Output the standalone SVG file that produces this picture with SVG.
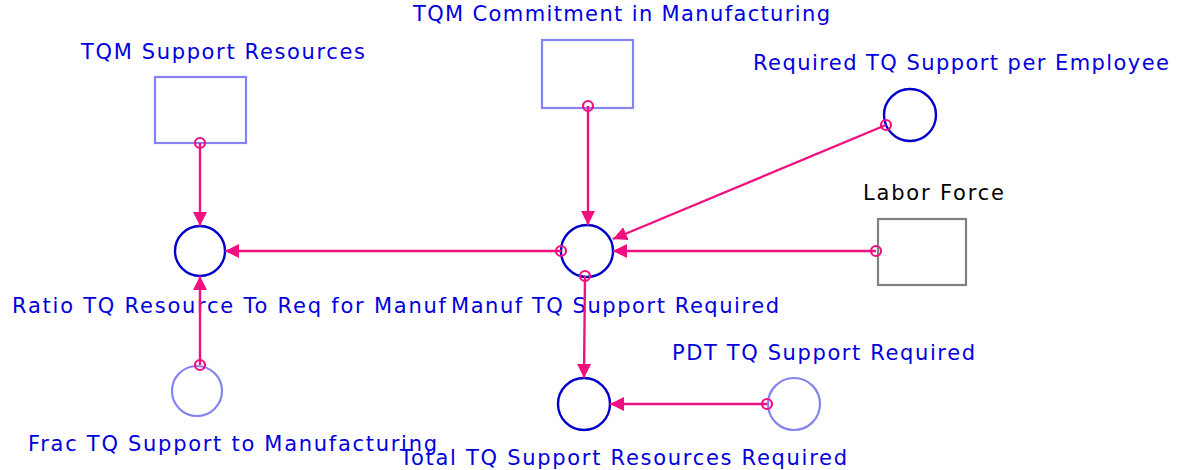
<svg xmlns="http://www.w3.org/2000/svg" width="1182" height="470" viewBox="0 0 1182 470">
<style>
.lbl{font-family:"DejaVu Sans","Verdana",sans-serif;font-size:21px;fill:#0000dd}
.blk{fill:#000}
.lvl{fill:#fff;stroke:#8484f0;stroke-width:2.2}
.lvlg{fill:#fff;stroke:#808080;stroke-width:2.2}
.aux{fill:#fff;stroke:#0000cc;stroke-width:2.4}
.auxl{fill:#fff;stroke:#8484f0;stroke-width:2.2}
.con line{stroke:#f0107f;stroke-width:2.4}
.con circle{fill:none;stroke:#f0107f;stroke-width:2.2}
</style>
<defs>
<marker id="ah" viewBox="0 0 14 14" refX="14" refY="7" markerWidth="14" markerHeight="14" markerUnits="userSpaceOnUse" orient="auto">
<path d="M0,0 L14,7 L0,14 Z" fill="#f0107f"/>
</marker>
</defs>
<g id="node-tqm-support-resources">
<rect class="lvl" x="155" y="77" width="91" height="66"/>
<text class="lbl" x="81" y="59" textLength="284" lengthAdjust="spacing">TQM Support Resources</text>
</g>
<g id="node-tqm-commitment">
<rect class="lvl" x="542" y="40" width="91" height="68"/>
<text class="lbl" x="413" y="21" textLength="417" lengthAdjust="spacing">TQM Commitment in Manufacturing</text>
</g>
<g id="node-labor-force">
<rect class="lvlg" x="878" y="219" width="88" height="66"/>
<text class="lbl blk" x="863" y="200" textLength="141" lengthAdjust="spacing">Labor Force</text>
</g>
<g id="node-required-tq">
<circle class="aux" cx="910" cy="115" r="26"/>
<text class="lbl" x="753" y="70" textLength="416" lengthAdjust="spacing">Required TQ Support per Employee</text>
</g>
<g id="node-ratio">
<circle class="aux" cx="200" cy="251" r="25"/>
<text class="lbl" x="12" y="313" textLength="434" lengthAdjust="spacing">Ratio TQ Resource To Req for Manuf</text>
</g>
<g id="node-manuf-tq">
<circle class="aux" cx="587" cy="251" r="26"/>
<text class="lbl" x="451" y="313" textLength="328" lengthAdjust="spacing">Manuf TQ Support Required</text>
</g>
<g id="node-frac">
<circle class="auxl" cx="197" cy="391" r="25"/>
<text class="lbl" x="28" y="451" textLength="409" lengthAdjust="spacing">Frac TQ Support to Manufacturing</text>
</g>
<g id="node-total">
<circle class="aux" cx="584" cy="404" r="26"/>
<text class="lbl" x="400" y="465" textLength="447" lengthAdjust="spacing">Total TQ Support Resources Required</text>
</g>
<g id="node-pdt">
<circle class="auxl" cx="794" cy="404" r="26"/>
<text class="lbl" x="672" y="360" textLength="303" lengthAdjust="spacing">PDT TQ Support Required</text>
</g>
<g id="connectors" class="con">
<line x1="200" y1="143" x2="200" y2="226" marker-end="url(#ah)"/><circle cx="200" cy="143" r="5"/>
<line x1="588" y1="106" x2="588" y2="225" marker-end="url(#ah)"/><circle cx="588" cy="106" r="5"/>
<line x1="886" y1="125" x2="613" y2="239" marker-end="url(#ah)"/><circle cx="886" cy="125" r="5"/>
<line x1="876" y1="251" x2="613" y2="251" marker-end="url(#ah)"/><circle cx="876" cy="251" r="5"/>
<line x1="561" y1="251" x2="225" y2="251" marker-end="url(#ah)"/><circle cx="561" cy="251" r="5"/>
<line x1="200" y1="365" x2="200" y2="276" marker-end="url(#ah)"/><circle cx="200" cy="365" r="5"/>
<line x1="585" y1="276" x2="584" y2="378" marker-end="url(#ah)"/><circle cx="585" cy="276" r="5"/>
<line x1="767" y1="404" x2="610" y2="404" marker-end="url(#ah)"/><circle cx="767" cy="404" r="5"/>
</g>
</svg>
